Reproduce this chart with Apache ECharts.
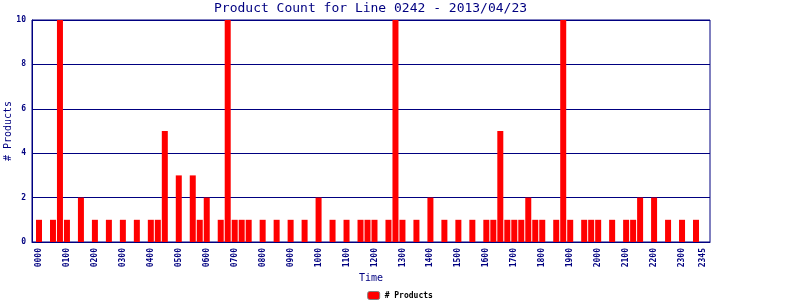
<!DOCTYPE html>
<html>
<head>
<meta charset="utf-8">
<script src="https://cdn.jsdelivr.net/npm/echarts@6/dist/echarts.min.js"></script>
<style>html,body{margin:0;padding:0;background:#fff;}#c{width:800px;height:300px;}</style>
</head>
<body>
<div id="c"></div>
<script>
// 15-minute slots 0000 .. 2345
const slots = [];
for (let h = 0; h < 24; h++) for (let m = 0; m < 60; m += 15)
  slots.push(String(h).padStart(2, '0') + String(m).padStart(2, '0'));

const tickLabels = ['0000','0100','0200','0300','0400','0500','0600','0700','0800','0900','1000','1100',
  '1200','1300','1400','1500','1600','1700','1800','1900','2000','2100','2200','2300','2345'];

const counts = [
  1,0,1,10,1,0,2,0, 1,0,1,0,1,0,1,0,
  1,1,5,0,3,0,3,1, 2,0,1,10,1,1,1,0,
  1,0,1,0,1,0,1,0, 2,0,1,0,1,0,1,1,
  1,0,1,10,1,0,1,0, 2,0,1,0,1,0,1,0,
  1,1,5,1,1,1,2,1, 1,0,1,10,1,0,1,1,
  1,0,1,0,1,1,2,0, 2,0,1,0,1,0,1,0
];

const yTicks = [0, 2, 4, 6, 8, 10];

const navy = '#000080';
const mono = 'DejaVu Sans Mono';

// pad one empty slot at each end of the axis
const categories = [''].concat(slots, ['']);

const chart = echarts.init(document.getElementById('c'), null, {renderer: 'canvas'});
chart.setOption({
  backgroundColor: '#fff',
  animation: false,
  title: {
    text: 'Product Count for Line 0242 - 2013/04/23',
    left: 214, top: 2, padding: 0,
    textStyle: {fontFamily: mono, fontSize: 13, fontWeight: 'normal', color: navy}
  },
  legend: {
    data: [{name: '# Products', itemStyle: {color: '#ff0000', borderColor: '#808080', borderWidth: 1}}],
    left: 'center', top: 291, padding: 0,
    itemWidth: 12, itemHeight: 8, itemGap: 4,
    textStyle: {fontFamily: mono, fontSize: 8, fontWeight: 'bold', color: '#000'}
  },
  grid: {
    left: 32, right: 90, top: 20, bottom: 58,
    containLabel: false, outerBoundsMode: 'none',
    show: true, borderColor: navy, borderWidth: 1, backgroundColor: 'transparent'
  },
  xAxis: {
    type: 'category',
    data: categories,
    boundaryGap: false,
    name: 'Time',
    nameLocation: 'middle',
    nameGap: 31,
    nameMoveOverlap: false,
    nameTextStyle: {fontFamily: mono, fontSize: 10, color: navy},
    axisLine: {lineStyle: {color: navy, width: 1}},
    axisTick: {show: false},
    splitLine: {show: false},
    axisLabel: {
      interval: 0,
      rotate: 90,
      margin: 6,
      fontFamily: mono, fontSize: 8, fontWeight: 'bold', color: navy,
      formatter: v => tickLabels.indexOf(v) >= 0 ? v : ''
    }
  },
  yAxis: {
    type: 'value',
    min: yTicks[0], max: yTicks[yTicks.length - 1], interval: 2,
    name: '# Products',
    nameLocation: 'middle',
    nameGap: 19,
    nameMoveOverlap: false,
    nameTextStyle: {fontFamily: mono, fontSize: 10, color: navy},
    axisLine: {show: true, lineStyle: {color: navy, width: 1}},
    axisTick: {show: false},
    splitLine: {lineStyle: {color: navy, width: 1}},
    axisLabel: {margin: 6, fontFamily: mono, fontSize: 8, fontWeight: 'bold', color: navy}
  },
  series: [{
    name: '# Products',
    type: 'bar',
    barWidth: 6,
    data: counts.map((v, i) => [slots[i], v]),
    itemStyle: {color: '#ff0000'}
  }]
});
</script>
</body>
</html>
